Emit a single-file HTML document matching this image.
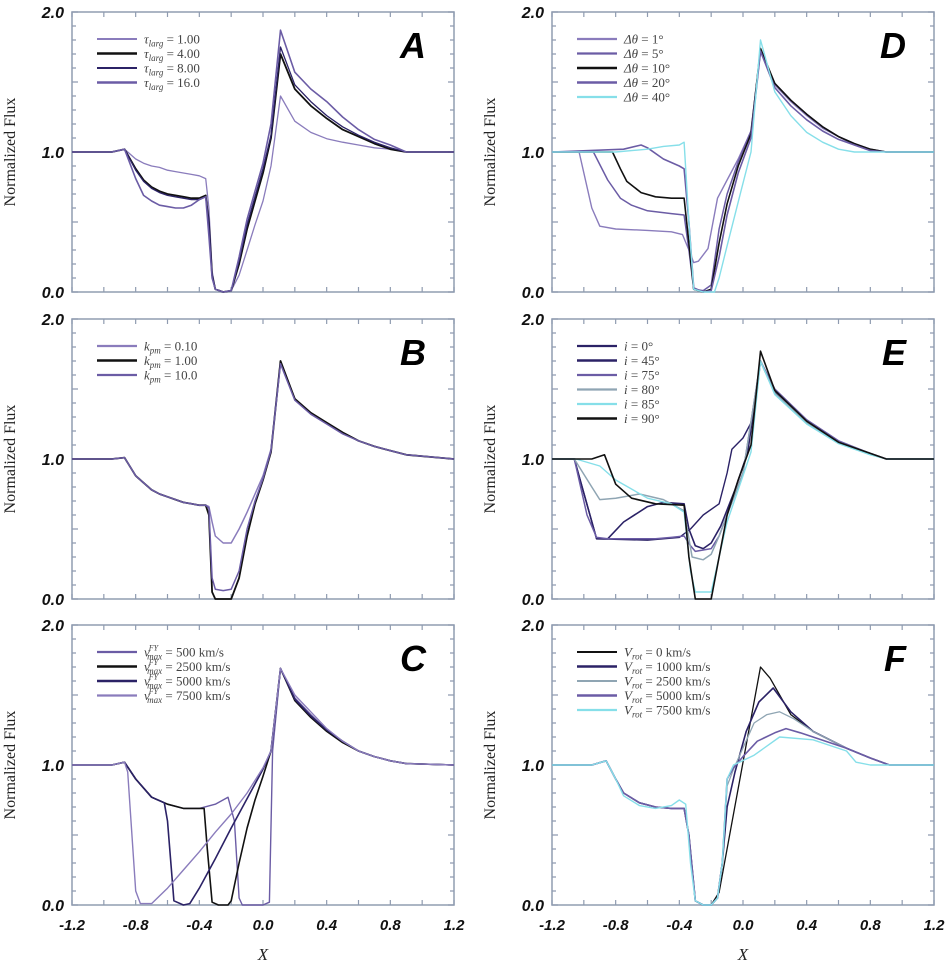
<!DOCTYPE html>
<html><head><meta charset="utf-8">
<style>
html,body{margin:0;padding:0;background:#fff;}
svg{display:block;}
.ytl{font:italic bold 16px "Liberation Sans",sans-serif;fill:#111;}
.xtl{font:italic bold 15px "Liberation Sans",sans-serif;fill:#111;}
.ylab{font:16px "Liberation Serif",serif;fill:#222;}
.xlab{font:italic 17px "Liberation Serif",serif;fill:#222;}
.plet{font:italic bold 36px "Liberation Sans",sans-serif;fill:#000;}
.leg{font:13px "Liberation Serif",serif;fill:#444;}
</style></head>
<body>
<svg id="fig" width="952" height="966" viewBox="0 0 952 966" xmlns="http://www.w3.org/2000/svg"></svg>
<script>
// ---------- DATA ----------
const xTicks = [-1.2,-0.8,-0.4,0.0,0.4,0.8,1.2];
const xTickLabels = ["-1.2","-0.8","-0.4","0.0","0.4","0.8","1.2"];
const yTicks = [0,1,2];
const yTickLabels = ["0.0","1.0","2.0"];

// Panel A
const A_x = [-1.2,-0.95,-0.87,-0.8,-0.75,-0.7,-0.65,-0.6,-0.55,-0.5,-0.45,-0.4,-0.36,-0.34,-0.32,-0.3,-0.25,-0.2,-0.15,-0.1,-0.05,0.0,0.05,0.11,0.2,0.3,0.4,0.5,0.6,0.7,0.8,0.9,1.2];
const A_tau1 = [1,1,1.02,0.95,0.92,0.9,0.89,0.87,0.86,0.85,0.84,0.83,0.81,0.6,0.15,0.02,0,0.01,0.12,0.3,0.48,0.65,0.9,1.40,1.22,1.14,1.095,1.07,1.05,1.03,1.02,1.0,1.0];
const A_tau4 = [1,1,1.02,0.88,0.8,0.75,0.72,0.70,0.69,0.68,0.67,0.67,0.69,0.5,0.12,0.02,0,0.01,0.2,0.45,0.65,0.85,1.1,1.70,1.45,1.33,1.24,1.16,1.11,1.06,1.02,1.0,1.0];
const A_tau8 = [1,1,1.02,0.87,0.79,0.74,0.71,0.69,0.68,0.67,0.66,0.66,0.68,0.5,0.12,0.02,0,0.01,0.22,0.48,0.68,0.88,1.12,1.75,1.48,1.36,1.26,1.18,1.12,1.07,1.03,1.0,1.0];
const A_tau16 = [1,1,1.02,0.81,0.69,0.65,0.62,0.61,0.60,0.60,0.62,0.66,0.68,0.4,0.1,0.02,0,0.01,0.25,0.52,0.72,0.92,1.2,1.87,1.57,1.45,1.36,1.25,1.16,1.09,1.05,1.0,1.0];

// Panel B
const B_x = A_x;
const B_k01 = [1,1,1.01,0.88,0.83,0.78,0.75,0.73,0.71,0.69,0.68,0.67,0.67,0.66,0.55,0.45,0.40,0.40,0.5,0.62,0.75,0.88,1.07,1.70,1.43,1.33,1.26,1.19,1.13,1.09,1.06,1.03,1.0];
const B_k1 = [1,1,1.01,0.88,0.83,0.78,0.75,0.73,0.71,0.69,0.68,0.67,0.67,0.6,0.05,0,0,0,0.15,0.45,0.68,0.85,1.05,1.70,1.43,1.33,1.26,1.19,1.13,1.09,1.06,1.03,1.0];
const B_k10 = [1,1,1.01,0.88,0.83,0.78,0.75,0.73,0.71,0.69,0.68,0.67,0.67,0.65,0.15,0.07,0.06,0.07,0.2,0.5,0.7,0.86,1.06,1.68,1.42,1.32,1.25,1.18,1.13,1.09,1.06,1.03,1.0];

// Panel C
const C_v500_x = [-1.2,-0.95,-0.87,-0.8,-0.7,-0.6,-0.5,-0.4,-0.3,-0.22,-0.18,-0.15,-0.13,-0.1,0.0,0.04,0.06,0.11,0.2,0.3,0.4,0.5,0.6,0.7,0.8,0.9,1.2];
const C_v500_y = [1,1,1.02,0.9,0.77,0.72,0.69,0.69,0.72,0.77,0.6,0.05,0.0,0.0,0.0,0.02,1.1,1.69,1.48,1.36,1.25,1.17,1.1,1.06,1.03,1.01,1.0];
const C_v2500_x = [-1.2,-0.95,-0.87,-0.8,-0.7,-0.6,-0.5,-0.37,-0.35,-0.32,-0.28,-0.22,-0.2,-0.15,-0.1,-0.05,0.0,0.05,0.11,0.2,0.3,0.4,0.5,0.6,0.7,0.8,0.9,1.2];
const C_v2500_y = [1,1,1.02,0.9,0.77,0.72,0.69,0.69,0.4,0.02,0,0,0.03,0.3,0.55,0.75,0.92,1.1,1.69,1.46,1.34,1.24,1.16,1.1,1.06,1.03,1.01,1.0];
const C_v5000_x = [-1.2,-0.95,-0.87,-0.8,-0.7,-0.62,-0.6,-0.56,-0.5,-0.46,-0.4,-0.3,-0.2,-0.1,0.0,0.05,0.11,0.2,0.3,0.4,0.5,0.6,0.7,0.8,0.9,1.2];
const C_v5000_y = [1,1,1.02,0.9,0.77,0.73,0.6,0.03,0.0,0.01,0.12,0.33,0.55,0.76,0.97,1.1,1.69,1.47,1.35,1.25,1.17,1.1,1.06,1.03,1.01,1.0];
const C_v7500_x = [-1.2,-0.95,-0.87,-0.85,-0.8,-0.77,-0.7,-0.6,-0.5,-0.4,-0.3,-0.2,-0.1,0.0,0.05,0.11,0.2,0.3,0.4,0.5,0.6,0.7,0.8,0.9,1.2];
const C_v7500_y = [1,1,1.02,0.95,0.1,0.01,0.01,0.12,0.25,0.38,0.52,0.65,0.8,0.98,1.1,1.69,1.5,1.38,1.26,1.17,1.1,1.06,1.03,1.01,1.0];

// Panel D
const D_t1_x = [-1.2,-1.03,-0.95,-0.9,-0.8,-0.6,-0.45,-0.38,-0.34,-0.31,-0.28,-0.22,-0.16,-0.1,-0.03,0.05,0.11,0.2,0.3,0.4,0.5,0.6,0.7,0.8,0.9,1.2];
const D_t1_y = [1,1,0.6,0.47,0.45,0.44,0.43,0.41,0.3,0.21,0.22,0.31,0.67,0.8,0.95,1.15,1.72,1.48,1.36,1.26,1.17,1.11,1.05,1.01,1.0,1.0];
const D_t5_x = [-1.2,-0.94,-0.85,-0.77,-0.7,-0.6,-0.45,-0.37,-0.34,-0.31,-0.25,-0.2,-0.15,-0.1,-0.03,0.05,0.11,0.2,0.3,0.4,0.5,0.6,0.7,0.8,0.9,1.2];
const D_t5_y = [1,1,0.8,0.67,0.62,0.58,0.56,0.55,0.3,0.02,0.01,0.05,0.45,0.7,0.93,1.15,1.72,1.49,1.37,1.27,1.18,1.11,1.06,1.02,1.0,1.0];
const D_t10_x = [-1.2,-0.82,-0.77,-0.73,-0.64,-0.55,-0.45,-0.37,-0.34,-0.31,-0.25,-0.2,-0.15,-0.1,-0.03,0.05,0.11,0.2,0.3,0.4,0.5,0.6,0.7,0.8,0.9,1.2];
const D_t10_y = [1,1,0.88,0.79,0.71,0.68,0.67,0.67,0.35,0.02,0,0.02,0.35,0.63,0.9,1.13,1.74,1.49,1.37,1.27,1.18,1.11,1.06,1.02,1.0,1.0];
const D_t20_x = [-1.2,-0.75,-0.64,-0.6,-0.5,-0.4,-0.37,-0.34,-0.31,-0.25,-0.2,-0.15,-0.1,-0.03,0.05,0.11,0.2,0.3,0.4,0.5,0.6,0.7,0.8,0.9,1.2];
const D_t20_y = [1,1.02,1.05,1.03,0.95,0.9,0.88,0.5,0.03,0,0.01,0.25,0.55,0.85,1.1,1.72,1.46,1.33,1.23,1.15,1.09,1.05,1.01,1.0,1.0];
const D_t40_x = [-1.2,-0.8,-0.6,-0.5,-0.4,-0.37,-0.34,-0.31,-0.25,-0.18,-0.15,-0.1,-0.015,0.05,0.11,0.2,0.3,0.4,0.5,0.6,0.7,1.2];
const D_t40_y = [1,1,1.02,1.04,1.05,1.07,0.5,0.02,0,0,0.1,0.33,0.71,1.0,1.80,1.43,1.26,1.14,1.07,1.02,1.0,1.0];

// Panel E
const E_i0_x = [-1.2,-1.06,-0.92,-0.6,-0.4,-0.33,-0.25,-0.15,-0.1,-0.07,0.0,0.07,0.11,0.2,0.4,0.6,0.8,0.9,1.2];
const E_i0_y = [1,1,0.43,0.42,0.44,0.5,0.6,0.68,0.9,1.07,1.15,1.3,1.70,1.48,1.26,1.12,1.04,1.0,1.0];
const E_i45_x = [-1.2,-1.06,-0.92,-0.85,-0.75,-0.6,-0.5,-0.37,-0.34,-0.3,-0.25,-0.2,-0.14,-0.05,0.03,0.11,0.2,0.4,0.6,0.8,0.9,1.2];
const E_i45_y = [1,1,0.43,0.43,0.55,0.66,0.69,0.68,0.5,0.38,0.36,0.4,0.52,0.78,1.05,1.70,1.47,1.26,1.12,1.04,1.0,1.0];
const E_i75_x = [-1.2,-1.06,-0.98,-0.92,-0.85,-0.7,-0.55,-0.45,-0.37,-0.33,-0.3,-0.2,-0.15,-0.1,0.0,0.11,0.2,0.4,0.6,0.8,0.9,1.2];
const E_i75_y = [1,1,0.6,0.44,0.43,0.43,0.43,0.44,0.45,0.38,0.34,0.36,0.45,0.6,0.9,1.70,1.5,1.28,1.13,1.04,1.0,1.0];
const E_i80_x = [-1.2,-1.06,-0.95,-0.9,-0.8,-0.65,-0.5,-0.37,-0.32,-0.25,-0.2,-0.15,-0.1,0.0,0.11,0.2,0.4,0.6,0.8,0.9,1.2];
const E_i80_y = [1,1,0.8,0.71,0.72,0.75,0.71,0.63,0.3,0.28,0.32,0.45,0.6,0.9,1.70,1.47,1.26,1.12,1.04,1.0,1.0];
const E_i85_x = [-1.2,-1.05,-0.9,-0.8,-0.6,-0.45,-0.37,-0.33,-0.3,-0.2,-0.15,-0.1,0.0,0.05,0.11,0.2,0.4,0.6,0.8,0.9,1.2];
const E_i85_y = [1,1,0.95,0.85,0.72,0.68,0.62,0.2,0.05,0.05,0.3,0.55,0.88,1.05,1.70,1.46,1.25,1.11,1.03,1.0,1.0];
const E_i90_x = [-1.2,-0.95,-0.87,-0.8,-0.7,-0.55,-0.37,-0.34,-0.3,-0.2,-0.15,-0.1,-0.03,0.05,0.11,0.2,0.4,0.6,0.8,0.9,1.2];
const E_i90_y = [1,1,1.03,0.82,0.72,0.68,0.67,0.3,0.0,0.0,0.3,0.6,0.85,1.1,1.77,1.49,1.27,1.12,1.04,1.0,1.0];

// Panel F
const F_v0_x = [-1.2,-0.95,-0.86,-0.8,-0.75,-0.65,-0.55,-0.45,-0.37,-0.34,-0.3,-0.25,-0.2,-0.15,0.11,0.17,0.3,0.44,0.65,0.8,0.92,1.2];
const F_v0_y = [1,1,1.03,0.9,0.8,0.73,0.70,0.69,0.69,0.5,0.03,0,0,0.09,1.70,1.62,1.36,1.24,1.12,1.05,1.0,1.0];
const F_v1000_x = [-1.2,-0.95,-0.86,-0.8,-0.75,-0.65,-0.55,-0.45,-0.37,-0.34,-0.3,-0.25,-0.2,-0.16,-0.13,-0.1,-0.05,0.02,0.1,0.19,0.3,0.44,0.65,0.8,0.92,1.2];
const F_v1000_y = [1,1,1.03,0.9,0.8,0.73,0.70,0.69,0.69,0.5,0.03,0,0,0.05,0.3,0.7,0.95,1.24,1.45,1.55,1.38,1.24,1.12,1.05,1.0,1.0];
const F_v2500_x = [-1.2,-0.95,-0.86,-0.8,-0.75,-0.65,-0.55,-0.45,-0.37,-0.34,-0.3,-0.25,-0.2,-0.16,-0.13,-0.1,-0.06,0.07,0.15,0.23,0.32,0.44,0.65,0.8,0.92,1.2];
const F_v2500_y = [1,1,1.03,0.9,0.8,0.73,0.70,0.69,0.69,0.5,0.03,0,0,0.05,0.3,0.85,0.97,1.3,1.36,1.38,1.33,1.24,1.12,1.05,1.0,1.0];
const F_v5000_x = [-1.2,-0.95,-0.86,-0.8,-0.75,-0.65,-0.55,-0.45,-0.37,-0.34,-0.3,-0.25,-0.2,-0.16,-0.13,-0.1,-0.06,0.0,0.09,0.2,0.27,0.36,0.44,0.65,0.8,0.92,1.2];
const F_v5000_y = [1,1,1.03,0.9,0.8,0.73,0.70,0.69,0.69,0.5,0.03,0,0,0.05,0.3,0.9,0.98,1.06,1.17,1.23,1.26,1.23,1.2,1.12,1.05,1.0,1.0];
const F_v7500_x = [-1.2,-0.95,-0.86,-0.8,-0.75,-0.65,-0.55,-0.45,-0.4,-0.36,-0.33,-0.3,-0.25,-0.2,-0.16,-0.13,-0.1,-0.06,0.07,0.23,0.44,0.65,0.71,0.8,1.2];
const F_v7500_y = [1,1,1.03,0.9,0.78,0.71,0.69,0.71,0.75,0.72,0.3,0.03,0,0,0.05,0.3,0.9,1.0,1.07,1.2,1.18,1.1,1.02,1.0,1.0];

// ---------- RENDER ----------
const NS = "http://www.w3.org/2000/svg";
const svg = document.getElementById("fig");
function mk(tag, attrs, parent){
  const e = document.createElementNS(NS, tag);
  for (const k in attrs) e.setAttribute(k, attrs[k]);
  (parent||svg).appendChild(e);
  return e;
}
const C_PUR = "#6b5ca5", C_DARK = "#2b2266", C_BLK = "#111", C_LPUR = "#8a7cbc", C_GRAY = "#8fa5b3", C_CYAN = "#86dfe9";
const W = 382, H = 280;
const panels = [
  {id:"A", x0:72, y0:12, bottom:false, series:[
    {lab:"τ", sub:"larg", val:" = 1.00", x:A_x, y:A_tau1, c:C_LPUR, w:1.3},
    {lab:"τ", sub:"larg", val:" = 4.00", x:A_x, y:A_tau4, c:C_BLK, w:1.8},
    {lab:"τ", sub:"larg", val:" = 8.00", x:A_x, y:A_tau8, c:C_DARK, w:1.3},
    {lab:"τ", sub:"larg", val:" = 16.0", x:A_x, y:A_tau16, c:C_PUR, w:1.6}]},
  {id:"B", x0:72, y0:319, bottom:false, series:[
    {lab:"k", sub:"pm", val:" = 0.10", x:B_x, y:B_k01, c:C_LPUR, w:1.5},
    {lab:"k", sub:"pm", val:" = 1.00", x:B_x, y:B_k1, c:C_BLK, w:1.8},
    {lab:"k", sub:"pm", val:" = 10.0", x:B_x, y:B_k10, c:C_PUR, w:1.5}]},
  {id:"C", x0:72, y0:625, bottom:true, series:[
    {lab:"v", sub:"max", sup:"FY", val:" = 500 km/s", x:C_v500_x, y:C_v500_y, c:C_PUR, w:1.4},
    {lab:"v", sub:"max", sup:"FY", val:" = 2500 km/s", x:C_v2500_x, y:C_v2500_y, c:C_BLK, w:1.6},
    {lab:"v", sub:"max", sup:"FY", val:" = 5000 km/s", x:C_v5000_x, y:C_v5000_y, c:C_DARK, w:1.6},
    {lab:"v", sub:"max", sup:"FY", val:" = 7500 km/s", x:C_v7500_x, y:C_v7500_y, c:C_LPUR, w:1.4}]},
  {id:"D", x0:552, y0:12, bottom:false, series:[
    {lab:"Δθ", val:" = 1°", x:D_t1_x, y:D_t1_y, c:C_LPUR, w:1.4},
    {lab:"Δθ", val:" = 5°", x:D_t5_x, y:D_t5_y, c:C_PUR, w:1.5},
    {lab:"Δθ", val:" = 10°", x:D_t10_x, y:D_t10_y, c:C_BLK, w:1.6},
    {lab:"Δθ", val:" = 20°", x:D_t20_x, y:D_t20_y, c:C_PUR, w:1.6},
    {lab:"Δθ", val:" = 40°", x:D_t40_x, y:D_t40_y, c:C_CYAN, w:1.4}]},
  {id:"E", x0:552, y0:319, bottom:false, series:[
    {lab:"i", val:" = 0°", x:E_i0_x, y:E_i0_y, c:C_DARK, w:1.4},
    {lab:"i", val:" = 45°", x:E_i45_x, y:E_i45_y, c:C_DARK, w:1.6},
    {lab:"i", val:" = 75°", x:E_i75_x, y:E_i75_y, c:C_PUR, w:1.5},
    {lab:"i", val:" = 80°", x:E_i80_x, y:E_i80_y, c:C_GRAY, w:1.5},
    {lab:"i", val:" = 85°", x:E_i85_x, y:E_i85_y, c:C_CYAN, w:1.4},
    {lab:"i", val:" = 90°", x:E_i90_x, y:E_i90_y, c:C_BLK, w:1.6}]},
  {id:"F", x0:552, y0:625, bottom:true, series:[
    {lab:"V", sub:"rot", val:" = 0 km/s", x:F_v0_x, y:F_v0_y, c:C_BLK, w:1.3},
    {lab:"V", sub:"rot", val:" = 1000 km/s", x:F_v1000_x, y:F_v1000_y, c:C_DARK, w:1.6},
    {lab:"V", sub:"rot", val:" = 2500 km/s", x:F_v2500_x, y:F_v2500_y, c:C_GRAY, w:1.3},
    {lab:"V", sub:"rot", val:" = 5000 km/s", x:F_v5000_x, y:F_v5000_y, c:C_PUR, w:1.6},
    {lab:"V", sub:"rot", val:" = 7500 km/s", x:F_v7500_x, y:F_v7500_y, c:C_CYAN, w:1.4}]}
];

panels.forEach(p => {
  const xs = v => p.x0 + (v + 1.2) / 2.4 * W;
  const ys = v => p.y0 + H - v / 2 * H;
  const g = mk("g", {});
  
  
  // frame
  const fr = mk("rect", {x:p.x0, y:p.y0, width:W, height:H, fill:"none", stroke:"#97a3b6", "stroke-width":1.6}, g);
  
  
  // minor ticks
  let d = "";
  for (let i = 0; i <= 12; i++) {
    const v = -1.2 + i * 0.2, X = xs(v);
    d += `M${X},${p.y0+H}v-5M${X},${p.y0}v5`;
  }
  for (let i = 0; i <= 20; i++) {
    const Y = ys(i * 0.1);
    const L = (i % 5 === 0) ? 6 : 4;
    d += `M${p.x0},${Y}h${L}M${p.x0+W},${Y}h-${L}`;
  }
  const tk = mk("path", {d:d, stroke:"#8f9bb0", "stroke-width":1.2, fill:"none"}, g);
  
  
  // y tick labels
  yTicks.forEach((v, i) => {
    const t = mk("text", {x:p.x0 - 8, y:ys(v) + 6, "text-anchor":"end", class:"ytl"}, g);
    t.textContent = yTickLabels[i];
    
    
  });
  // y axis title
  const cx = p.x0 - 57, cy = p.y0 + H / 2;
  const yt = mk("text", {x:cx, y:cy, "text-anchor":"middle", class:"ylab", transform:`rotate(-90 ${cx} ${cy})`}, g);
  yt.textContent = "Normalized Flux";
  
  
  // x tick labels
  if (p.bottom) {
    xTicks.forEach((v, i) => {
      const t = mk("text", {x:xs(v), y:p.y0 + H + 25, "text-anchor":"middle", class:"xtl"}, g);
      t.textContent = xTickLabels[i];
      
      
    });
    const xt = mk("text", {x:p.x0 + W / 2, y:p.y0 + H + 55, "text-anchor":"middle", class:"xlab"}, g);
    xt.textContent = "X";
    
    
  }
  // series
  p.series.forEach((s, k) => {
    let pd = "";
    s.x.forEach((v, j) => { pd += (j ? "L" : "M") + xs(v).toFixed(1) + "," + ys(s.y[j]).toFixed(1); });
    const path = mk("path", {d:pd, fill:"none", stroke:s.c, "stroke-width":s.w, "stroke-linejoin":"round"}, g);
    
    
    // legend
    const ly = p.y0 + 27 + k * 14.5;
    const ll = mk("line", {x1:p.x0 + 25, x2:p.x0 + 65, y1:ly, y2:ly, stroke:s.c, "stroke-width":s.w + 0.8}, g);
    
    
    const lt = mk("text", {x:p.x0 + 72, y:ly + 4.5, class:"leg"}, g);
    
    
    const a = mk("tspan", {"font-style":"italic"}, lt); a.textContent = s.lab;
    if (s.sup) { const sp = mk("tspan", {"font-size":"8", "font-style":"italic", dy:"-6", dx:"-1"}, lt); sp.textContent = s.sup; }
    if (s.sub) { const sb = mk("tspan", {"font-size":"9", "font-style":"italic", dy: s.sup ? "9" : "3", dx: s.sup ? "-11" : "0"}, lt); sb.textContent = s.sub; }
    const vv = mk("tspan", {dy: s.sub ? (s.sup ? "-3" : "-3") : "0"}, lt);
    vv.textContent = s.val;
  });
  // panel letter
  const pl = mk("text", {x:p.x0 + W - 28, y:p.y0 + 46, "text-anchor":"end", class:"plet"}, g);
  pl.textContent = p.id;
  
  
});
</script>
</body></html>
